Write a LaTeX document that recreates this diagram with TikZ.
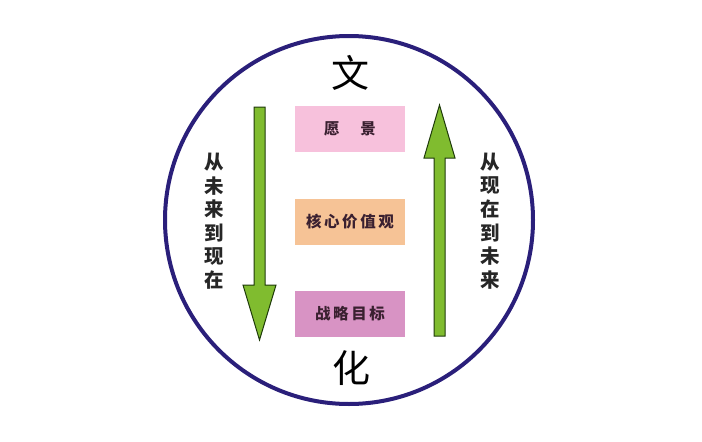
\documentclass[tikz,border=0pt]{standalone}
\usepackage{fontspec}
\newfontfamily\cjk{Noto Sans CJK SC}
\definecolor{ringblue}{HTML}{2A1F7A}
\definecolor{arrgreen}{HTML}{80BC2F}
\definecolor{arrline}{HTML}{1E3A0A}
\definecolor{pinkbox}{HTML}{F7C1DC}
\definecolor{orangebox}{HTML}{F6C396}
\definecolor{purplebox}{HTML}{D893C4}
\definecolor{boxtext}{HTML}{3A2030}
\begin{document}
\begin{tikzpicture}[x=1pt,y=-1pt,
        valuebox/.style={minimum width=110pt,minimum height=46pt,inner sep=0pt,
            text=boxtext,font=\cjk\bfseries\fontsize{15.5}{17}\selectfont},
        bigchar/.style={font=\cjk\fontsize{38}{40}\selectfont},
        sidechar/.style={inner sep=0pt,text=black!85,font=\cjk\bfseries\fontsize{19.5}{21}\selectfont},
        blockarrow/.style={fill=arrgreen,draw=arrline,line width=1pt,line join=miter}]
                \useasboundingbox (0,0) rectangle (702,442);
                \draw[ringblue,line width=4pt] (349,220) circle (184);

                \node (wen) at (350,73)[bigchar]{文};
                \node (hua) at (351,368)[bigchar]{化};

                \node (vision) at (350,129)[valuebox,fill=pinkbox]{愿\hspace{21pt}景};
                \node (values) at (350,221.5)[valuebox,fill=orangebox]{核\,心\,价\,值\,观};
                \node (goals) at (350,314)[valuebox,fill=purplebox]{战\,略\,目\,标};

                \draw[blockarrow] (254,107) -- (265,107) -- (265,285) -- (276,285)
                    -- (259.5,340) -- (243,285) -- (254,285) -- cycle;
                \draw[blockarrow] (434,336) -- (445,336) -- (445,158) -- (455,158)
                    -- (439.5,105) -- (424,158) -- (434,158) -- cycle;

                \foreach \c [count=\i] in {从,未,来,到,现,在}
                    {
                        \node (left\i) at (214, 139+\i*23.5)[sidechar]{\c};
                    }
                \foreach \c [count=\i] in {从,现,在,到,未,来}
                    {
                        \node (right\i) at (490, 139+\i*23.5)[sidechar]{\c};
                    }
            \end{tikzpicture}
\end{document}
